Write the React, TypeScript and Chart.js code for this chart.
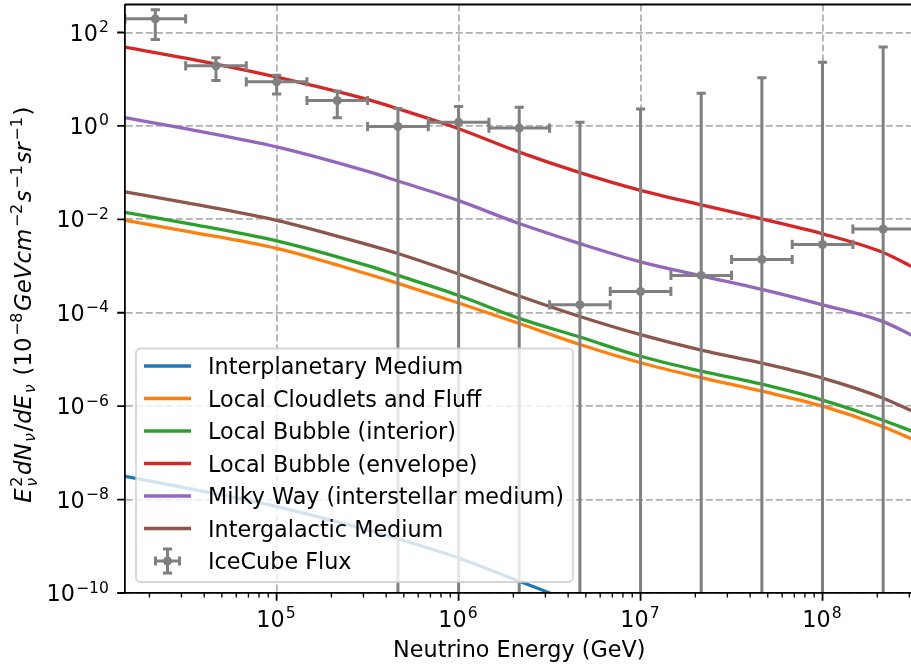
import React, { useEffect, useRef } from 'react';
import { Chart, registerables } from 'chart.js';

Chart.register(...registerables);

const FONT = '"DejaVu Sans", "Noto Sans", sans-serif';
const FS = 22.3;
const TITLE_FS = 22.8;

// ---- series meta ----
const seriesLabels = [
  'Interplanetary Medium',
  'Local Cloudlets and Fluff',
  'Local Bubble (interior)',
  'Local Bubble (envelope)',
  'Milky Way (interstellar medium)',
  'Intergalactic Medium',
];
const seriesColors = ['#1f77b4', '#ff7f0e', '#2ca02c', '#d62728', '#9467bd', '#8c564b'];
const iceLabel = 'IceCube Flux';
const iceColor = '#808080';
const xTitle = 'Neutrino Energy (GeV)';

// ---- model curves (GeV, flux) ----
const energyGrid = [1.468e4, 3.162e4, 1e5, 3.162e5, 4.642e5, 1e6, 2.154e6, 4.642e6, 1e7, 2.154e7, 4.642e7, 1e8, 2.154e8, 3.162e8];
const ipmEnergy = [1.468e4, 3.162e4, 1e5, 3.162e5, 4.642e5, 1e6, 2.154e6, 3.162e6, 4.642e6, 1e7];
const ipmFlux = [3.16e-8, 1.78e-8, 7.08e-9, 2.24e-9, 1.45e-9, 5.62e-10, 1.78e-10, 1.0e-10, 5.4e-11, 1.4e-11];
const cloudletFlux = [9.55e-3, 5.62e-3, 2.4e-3, 6.76e-4, 4.27e-4, 1.62e-4, 5.89e-5, 2.09e-5, 8.51e-6, 4.07e-6, 2.09e-6, 1.0e-6, 3.63e-7, 1.91e-7];
const bubbleInteriorFlux = [1.41e-2, 8.32e-3, 3.47e-3, 1.02e-3, 6.31e-4, 2.34e-4, 7.59e-5, 3.02e-5, 1.17e-5, 5.62e-6, 2.95e-6, 1.35e-6, 5.01e-7, 2.82e-7];
const bubbleEnvelopeFlux = [48.5, 28.2, 11.1, 3.69, 2.33, 0.871, 0.275, 0.1, 0.0417, 0.0204, 0.0102, 0.0049, 0.00195, 0.00093];
const milkyWayFlux = [1.507, 0.871, 0.355, 0.106, 0.0661, 0.0251, 0.00813, 0.00302, 0.00123, 6.17e-4, 3.16e-4, 1.48e-4, 6.46e-5, 3.16e-5];
const intergalacticFlux = [0.0389, 0.0229, 0.00955, 0.00288, 0.00186, 6.76e-4, 2.29e-4, 8.32e-5, 3.39e-5, 1.58e-5, 8.32e-6, 3.98e-6, 1.48e-6, 7.6e-7];

// ---- IceCube data ----
const iceEnergy = [2.154e4, 4.642e4, 1e5, 2.154e5, 4.642e5, 1e6, 2.154e6, 4.642e6, 1e7, 2.154e7, 4.642e7, 1e8, 2.154e8];
const iceEnergyLow = [1.468e4, 3.162e4, 6.813e4, 1.468e5, 3.162e5, 6.813e5, 1.468e6, 3.162e6, 6.813e6, 1.468e7, 3.162e7, 6.813e7, 1.468e8];
const iceEnergyHigh = [3.162e4, 6.813e4, 1.468e5, 3.162e5, 6.813e5, 1.468e6, 3.162e6, 6.813e6, 1.468e7, 3.162e7, 6.813e7, 1.468e8, 3.162e8];
const iceFlux = [196, 19.4, 8.8, 3.5, 0.97, 1.2, 0.9, 1.48e-4, 2.86e-4, 6.3e-4, 1.38e-3, 2.9e-3, 6.2e-3];
const iceFluxHigh = [309, 29, 12.2, 5.5, 2.35, 2.6, 2.5, 1.2, 2.3, 5.0, 10.7, 23, 49];
const iceFluxLow = [71, 9.4, 4.8, 1.5, 0, 0, 0, 0, 0, 0, 0, 0, 0];

// ---- axes ----
const xMin = 1.468e4;
const xMax = 3.162e8;
const yMin = 1e-10;
const yMax = 398;
const xTickValues = [1e5, 1e6, 1e7, 1e8];
const xTickExps = ['5', '6', '7', '8'];
const yTickValues = [1e-10, 1e-8, 1e-6, 1e-4, 1e-2, 1, 1e2];
const yTickExps = ['\u221210', '\u22128', '\u22126', '\u22124', '\u22122', '0', '2'];

type Part = { t?: string; it?: boolean; sup?: string; sub?: string; subIt?: boolean };

const yTitleParts: Part[] = [
  { t: 'E', it: true, sup: '2', sub: '\u03bd', subIt: true },
  { t: 'dN', it: true, sub: '\u03bd', subIt: true },
  { t: '/' },
  { t: 'dE', it: true, sub: '\u03bd', subIt: true },
  { t: ' (10', sup: '\u22128' },
  { t: 'GeVcm', it: true, sup: '\u22122' },
  { t: 's', it: true, sup: '\u22121' },
  { t: 'sr', it: true, sup: '\u22121' },
  { t: ')' },
];

const font = (sz: number, it?: boolean) => `${it ? 'italic ' : ''}${sz}px ${FONT}`;

function mathRun(ctx: CanvasRenderingContext2D, parts: Part[], x: number, y: number, size: number, draw: boolean, gap = 0.05) {
  const ss = size * 0.7;
  const up = size * 0.38;
  const dn = size * 0.17;
  const dn2 = size * 0.26;
  let cx = x;
  for (const p of parts) {
    if (p.t) {
      ctx.font = font(size, p.it);
      if (draw) ctx.fillText(p.t, cx, y);
      cx += ctx.measureText(p.t).width;
    }
    if (p.sup || p.sub) {
      cx += size * gap;
      let w = 0;
      if (p.sup) {
        ctx.font = font(ss, false);
        if (draw) ctx.fillText(p.sup, cx, y - up);
        w = Math.max(w, ctx.measureText(p.sup).width);
      }
      if (p.sub) {
        ctx.font = font(ss, p.subIt);
        if (draw) ctx.fillText(p.sub, cx, y + (p.sup ? dn2 : dn));
        w = Math.max(w, ctx.measureText(p.sub).width);
      }
      cx += w + size * gap;
    }
  }
  return cx - x;
}

function drawErrorBars(chart: any) {
  const ctx: CanvasRenderingContext2D = chart.ctx;
  const xs = chart.scales.x;
  const ys = chart.scales.y;
  const ca = chart.chartArea;
  const cap = 4.6;
  ctx.save();
  ctx.beginPath();
  ctx.rect(ca.left, ca.top, ca.right - ca.left, ca.bottom - ca.top);
  ctx.clip();
  ctx.strokeStyle = iceColor;
  ctx.lineWidth = 3;
  ctx.lineCap = 'butt';
  for (let i = 0; i < iceEnergy.length; i++) {
    const px = xs.getPixelForValue(iceEnergy[i]);
    const py = ys.getPixelForValue(iceFlux[i]);
    const x0 = xs.getPixelForValue(iceEnergyLow[i]);
    const x1 = xs.getPixelForValue(iceEnergyHigh[i]);
    const yTop = ys.getPixelForValue(iceFluxHigh[i]);
    const lowVal = iceFluxLow[i];
    const hasLow = lowVal > 0;
    const yBot = hasLow ? ys.getPixelForValue(lowVal) : ca.bottom + 20;
    ctx.beginPath();
    ctx.moveTo(x0, py); ctx.lineTo(x1, py);
    ctx.moveTo(px, yTop); ctx.lineTo(px, yBot);
    ctx.moveTo(x0, py - cap); ctx.lineTo(x0, py + cap);
    ctx.moveTo(x1, py - cap); ctx.lineTo(x1, py + cap);
    ctx.moveTo(px - cap, yTop); ctx.lineTo(px + cap, yTop);
    if (hasLow) { ctx.moveTo(px - cap, yBot); ctx.lineTo(px + cap, yBot); }
    ctx.stroke();
  }
  ctx.restore();
}

function drawLegend(chart: any) {
  const ctx: CanvasRenderingContext2D = chart.ctx;
  const ca = chart.chartArea;
  const pad = 11;
  ctx.save();
  ctx.font = font(FS);
  const labels = [...seriesLabels, iceLabel];
  let maxW = 0;
  labels.forEach((l) => { maxW = Math.max(maxW, ctx.measureText(l).width); });
  const left = ca.left + pad;
  const bottom = ca.bottom - pad;
  const handleX0 = left + 8;
  const handleX1 = handleX0 + 47;
  const textX = handleX1 + 17;
  const right = textX + maxW + 9;
  const rowH = 32.5;
  const top = bottom - 233.5;
  const r = 4.5;
  ctx.beginPath();
  ctx.moveTo(left + r, top);
  ctx.lineTo(right - r, top);
  ctx.arcTo(right, top, right, top + r, r);
  ctx.lineTo(right, bottom - r);
  ctx.arcTo(right, bottom, right - r, bottom, r);
  ctx.lineTo(left + r, bottom);
  ctx.arcTo(left, bottom, left, bottom - r, r);
  ctx.lineTo(left, top + r);
  ctx.arcTo(left, top, left + r, top, r);
  ctx.closePath();
  ctx.fillStyle = 'rgba(255,255,255,0.8)';
  ctx.fill();
  ctx.strokeStyle = 'rgba(204,204,204,0.8)';
  ctx.lineWidth = 1.8;
  ctx.stroke();

  for (let i = 0; i < labels.length; i++) {
    const cy = bottom - 21 - (labels.length - 1 - i) * rowH;
    if (i < seriesLabels.length) {
      ctx.strokeStyle = seriesColors[i];
      ctx.lineWidth = 3.3;
      ctx.beginPath();
      ctx.moveTo(handleX0, cy);
      ctx.lineTo(handleX1, cy);
      ctx.stroke();
    } else {
      const mx = (handleX0 + handleX1) / 2;
      const hw = 12;
      const c = 4.6;
      ctx.strokeStyle = iceColor;
      ctx.lineWidth = 3;
      ctx.beginPath();
      ctx.moveTo(mx - hw, cy); ctx.lineTo(mx + hw, cy);
      ctx.moveTo(mx, cy - hw); ctx.lineTo(mx, cy + hw);
      ctx.moveTo(mx - hw, cy - c); ctx.lineTo(mx - hw, cy + c);
      ctx.moveTo(mx + hw, cy - c); ctx.lineTo(mx + hw, cy + c);
      ctx.moveTo(mx - c, cy - hw); ctx.lineTo(mx + c, cy - hw);
      ctx.moveTo(mx - c, cy + hw); ctx.lineTo(mx + c, cy + hw);
      ctx.stroke();
      ctx.fillStyle = iceColor;
      ctx.beginPath();
      ctx.arc(mx, cy, 4.5, 0, Math.PI * 2);
      ctx.fill();
    }
    ctx.fillStyle = '#000';
    ctx.font = font(FS);
    ctx.textAlign = 'left';
    ctx.textBaseline = 'alphabetic';
    ctx.fillText(labels[i], textX, cy + 8);
  }
  ctx.restore();
}

function drawAxesDecor(chart: any) {
  const ctx: CanvasRenderingContext2D = chart.ctx;
  const xs = chart.scales.x;
  const ys = chart.scales.y;
  const ca = chart.chartArea;
  ctx.save();
  ctx.strokeStyle = '#000';
  ctx.lineWidth = 1.8;
  ctx.beginPath();
  ctx.moveTo(ca.left, ca.top); ctx.lineTo(ca.right, ca.top);
  ctx.moveTo(ca.right, ca.top); ctx.lineTo(ca.right, ca.bottom);
  ctx.stroke();

  ctx.beginPath();
  xTickValues.forEach((v) => {
    const px = xs.getPixelForValue(v);
    ctx.moveTo(px, ca.bottom); ctx.lineTo(px, ca.bottom + 7.8);
  });
  yTickValues.forEach((v) => {
    const py = ys.getPixelForValue(v);
    ctx.moveTo(ca.left, py); ctx.lineTo(ca.left - 7.8, py);
  });
  ctx.stroke();
  ctx.lineWidth = 1.33;
  ctx.beginPath();
  for (let d = 4; d <= 8; d++) {
    for (let m = 2; m <= 9; m++) {
      const v = m * Math.pow(10, d);
      if (v < xMin || v > xMax) continue;
      const px = xs.getPixelForValue(v);
      ctx.moveTo(px, ca.bottom); ctx.lineTo(px, ca.bottom + 4.4);
    }
  }
  ctx.stroke();

  ctx.fillStyle = '#000';
  ctx.textAlign = 'left';
  ctx.textBaseline = 'alphabetic';
  xTickValues.forEach((v, i) => {
    const px = xs.getPixelForValue(v);
    const parts: Part[] = [{ t: '10', sup: xTickExps[i] }];
    const w = mathRun(ctx, parts, 0, 0, FS, false);
    mathRun(ctx, parts, px - w / 2, ca.bottom + 33.5, FS, true);
  });
  yTickValues.forEach((v, i) => {
    const py = ys.getPixelForValue(v);
    const parts: Part[] = [{ t: '10', sup: yTickExps[i] }];
    const w = mathRun(ctx, parts, 0, 0, FS, false);
    mathRun(ctx, parts, ca.left - 15 - w, py + 8, FS, true);
  });

  ctx.font = font(FS);
  ctx.textAlign = 'center';
  ctx.fillText(xTitle, (ca.left + ca.right) / 2, ca.bottom + 64);

  ctx.textAlign = 'left';
  ctx.translate(31, (ca.top + ca.bottom) / 2 + 6);
  ctx.rotate(-Math.PI / 2);
  const tw = mathRun(ctx, yTitleParts, 0, 0, TITLE_FS, false, 0.07);
  mathRun(ctx, yTitleParts, -tw / 2, 0, TITLE_FS, true, 0.07);
  ctx.restore();
}

const decorPlugin = {
  id: 'decor',
  beforeDatasetDraw(chart: any, args: any) {
    if (args.index === 6) drawErrorBars(chart);
  },
  afterDraw(chart: any) {
    drawLegend(chart);
    drawAxesDecor(chart);
  },
};

function curve(xs: number[], ys: number[]) {
  return xs.map((x, i) => ({ x, y: ys[i] }));
}

export default function App() {
  const ref = useRef<HTMLCanvasElement | null>(null);
  useEffect(() => {
    if (!ref.current) return;
    const curves = [
      curve(ipmEnergy, ipmFlux),
      curve(energyGrid, cloudletFlux),
      curve(energyGrid, bubbleInteriorFlux),
      curve(energyGrid, bubbleEnvelopeFlux),
      curve(energyGrid, milkyWayFlux),
      curve(energyGrid, intergalacticFlux),
    ];
    const lineSets = curves.map((data, i) => ({
      label: seriesLabels[i],
      data,
      borderColor: seriesColors[i],
      backgroundColor: seriesColors[i],
      borderWidth: 3.3,
      pointRadius: 0,
      cubicInterpolationMode: 'monotone' as const,
      fill: false,
      clip: 0,
      order: 6 - i,
    }));
    const iceSet = {
      label: iceLabel,
      data: curve(iceEnergy, iceFlux),
      showLine: false,
      borderColor: iceColor,
      backgroundColor: iceColor,
      pointBackgroundColor: iceColor,
      pointBorderWidth: 0,
      pointRadius: 4.5,
      clip: 0,
      order: 0,
    };
    const gridCommon = { color: '#b0b0b0', lineWidth: 1.8, drawTicks: false };
    const borderCommon = { display: true, color: '#000', width: 1.8, dash: [7, 3], z: 1 };
    const chart = new Chart(ref.current, {
      type: 'line',
      data: { datasets: [...lineSets, iceSet] as any },
      options: {
        animation: false,
        responsive: false,
        devicePixelRatio: 1,
        events: [],
        layout: { padding: { top: 4, right: 2, left: 0, bottom: 0 } },
        plugins: { legend: { display: false }, tooltip: { enabled: false } },
        scales: {
          x: {
            type: 'logarithmic',
            min: xMin,
            max: xMax,
            ticks: { display: false },
            grid: gridCommon,
            border: borderCommon,
            afterBuildTicks: (s: any) => { s.ticks = xTickValues.map((value) => ({ value })); },
            afterFit: (s: any) => { s.height = 78; },
          },
          y: {
            type: 'logarithmic',
            min: yMin,
            max: yMax,
            ticks: { display: false },
            grid: gridCommon,
            border: borderCommon,
            afterBuildTicks: (s: any) => { s.ticks = yTickValues.map((value) => ({ value })); },
            afterFit: (s: any) => { s.width = 125; },
          },
        },
      } as any,
      plugins: [decorPlugin],
    });
    return () => chart.destroy();
  }, []);

  return (
    <div style={{ position: 'absolute', left: 0, top: 0, width: 911, height: 671, overflow: 'hidden', background: '#fff' }}>
      <canvas ref={ref} width={918} height={671} style={{ display: 'block' }} />
    </div>
  );
}
